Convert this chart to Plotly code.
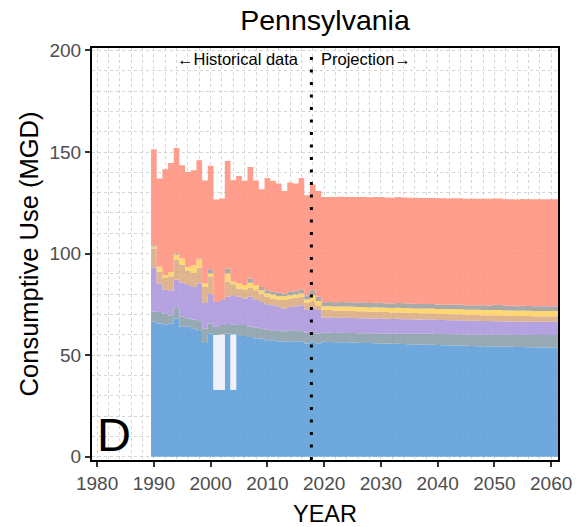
import plotly.graph_objects as go

# ---------------- data ----------------
hist_years = list(range(1990, 2020))
proj_years = list(range(2020, 2061))
years = hist_years + proj_years

# layer thicknesses (MGD), bottom to top
blue_hist = [66.4, 65.6, 65.1, 65.6, 68.0, 64.0, 64.0, 63.2, 62.3, 56.0,
             60.7, 33.0, 33.0, 60.7, 33.0, 60.2, 59.4, 59.0, 58.2, 58.2,
             57.4, 57.4, 56.9, 56.6, 56.9, 56.9, 56.6, 55.8, 56.6, 55.8]
blue_proj = [56.6, 56.5, 56.4, 56.4, 56.3, 56.2, 56.1, 56.0, 56.0, 55.9,
             55.8, 55.7, 55.6, 55.6, 55.5, 55.4, 55.3, 55.2, 55.2, 55.1,
             55.0, 54.9, 54.8, 54.8, 54.7, 54.6, 54.5, 54.4, 54.4, 54.3,
             54.2, 54.2, 54.1, 54.1, 54.0, 54.0, 53.9, 53.9, 53.8, 53.8, 53.8]

gap_years = [2001, 2002, 2004]
gap_sizes = [26.9, 27.2, 27.2]

teal_hist = [5.1, 5.7, 5.4, 4.1, 5.5, 4.9, 4.0, 4.4, 4.9, 7.0,
             4.9, 4.1, 4.6, 4.6, 4.9, 4.6, 5.4, 5.0, 5.3, 5.0,
             5.3, 4.9, 5.4, 5.2, 5.4, 5.4, 5.2, 5.2, 4.9, 4.9]
teal_proj = [4.4, 4.5, 4.5, 4.6, 4.6, 4.7, 4.7, 4.8, 4.8, 4.9,
             4.9, 5.0, 5.0, 5.1, 5.1, 5.2, 5.2, 5.3, 5.3, 5.4,
             5.4, 5.5, 5.5, 5.5, 5.6, 5.6, 5.7, 5.7, 5.7, 5.8,
             5.8, 5.8, 5.9, 5.9, 5.9, 6.0, 6.0, 6.0, 6.1, 6.1, 6.1]

purple_hist = [21.8, 14.0, 11.8, 12.0, 13.8, 16.7, 16.5, 16.0, 18.1, 12.7,
               14.4, 12.2, 12.3, 13.4, 14.4, 13.9, 13.1, 14.7, 13.6, 13.0,
               12.4, 12.3, 11.5, 11.2, 11.5, 11.8, 12.8, 11.5, 11.8, 11.5]
purple_proj = [7.6, 7.6, 7.5, 7.5, 7.5, 7.4, 7.4, 7.4, 7.3, 7.3,
               7.3, 7.2, 7.2, 7.2, 7.1, 7.1, 7.1, 7.0, 7.0, 7.0,
               6.9, 6.9, 6.9, 6.9, 6.8, 6.8, 6.8, 6.8, 6.7, 6.7,
               6.7, 6.7, 6.6, 6.6, 6.6, 6.6, 6.6, 6.5, 6.5, 6.5, 6.5]

tan_hist = [9.2, 5.7, 5.7, 7.2, 9.8, 9.0, 7.0, 6.9, 7.9, 7.9,
            8.7, 0.0, 0.0, 7.4, 5.4, 4.1, 4.4, 4.6, 4.9, 3.8,
            3.6, 3.3, 3.3, 4.1, 4.1, 4.1, 4.1, 3.2, 3.3, 2.4]
tan_proj = [3.6, 3.6, 3.5, 3.5, 3.5, 3.4, 3.4, 3.4, 3.3, 3.3,
            3.3, 3.3, 3.2, 3.2, 3.2, 3.2, 3.1, 3.1, 3.1, 3.1,
            3.0, 3.0, 3.0, 3.0, 3.0, 2.9, 2.9, 2.9, 2.9, 2.9,
            2.9, 2.9, 2.8, 2.8, 2.8, 2.8, 2.8, 2.8, 2.8, 2.8, 2.8]

yellow_hist = [1.0, 2.5, 1.4, 2.1, 2.3, 3.0, 2.0, 3.8, 4.0, 1.7,
               1.5, 0.0, 0.0, 4.1, 1.2, 2.5, 2.2, 2.3, 2.5, 2.0,
               1.7, 2.0, 1.9, 1.9, 1.6, 1.7, 1.7, 1.7, 2.9, 2.1]
yellow_proj = [1.9, 1.9, 2.0, 2.0, 2.0, 2.1, 2.1, 2.1, 2.1, 2.2,
               2.2, 2.2, 2.2, 2.3, 2.3, 2.3, 2.3, 2.3, 2.4, 2.4,
               2.4, 2.4, 2.4, 2.5, 2.5, 2.5, 2.5, 2.5, 2.5, 2.5,
               2.6, 2.6, 2.6, 2.6, 2.6, 2.6, 2.6, 2.6, 2.6, 2.6, 2.6]

gray_hist = [0.6, 0.0, 0.0, 0.0, 0.6, 0.0, 0.0, 0.0, 0.4, 0.0,
             2.1, 0.0, 0.0, 2.5, 0.0, 0.0, 0.0, 2.1, 0.0, 1.6,
             1.6, 1.3, 1.7, 1.4, 1.7, 1.6, 1.9, 2.1, 2.5, 2.0]
gray_proj = [2.0, 2.1, 2.1, 2.2, 2.1, 2.2, 2.2, 2.3, 2.2, 2.2,
             2.3, 2.2, 2.2, 2.3, 2.3, 2.2, 2.3, 2.3, 2.2, 2.2,
             2.3, 2.3, 2.2, 2.2, 2.3, 2.2, 2.2, 2.3, 2.4, 2.3,
             2.6, 2.5, 2.3, 2.3, 2.2, 2.3, 2.3, 2.3, 2.3, 2.3, 2.3]

salmon_hist = [47.2, 43.5, 52.1, 53.6, 52.0, 45.9, 46.7, 46.7, 48.4, 50.7,
               51.0, 50.4, 50.0, 52.9, 50.0, 52.9, 51.3, 54.9, 51.5, 48.1,
               55.2, 54.6, 53.8, 50.4, 53.8, 53.0, 54.9, 49.2, 52.0, 52.1]
salmon_proj = [51.7, 51.7, 51.8, 51.8, 51.8, 51.9, 51.9, 51.9, 52.0, 52.0,
               52.0, 52.0, 52.1, 52.1, 52.1, 52.1, 52.2, 52.2, 52.2, 52.2,
               52.3, 52.3, 52.3, 52.3, 52.4, 52.4, 52.4, 52.4, 52.4, 52.5,
               52.3, 52.4, 52.5, 52.5, 52.5, 52.6, 52.6, 52.6, 52.6, 52.7, 52.7]

projection_start = 2017.75
x_ticks = [1980, 1990, 2000, 2010, 2020, 2030, 2040, 2050, 2060]
y_ticks = [0, 50, 100, 150, 200]
x_range = [1979.1, 2061.2]
y_range = [-1.6, 201.2]

# ---------------- build ----------------
gap_map = dict(zip(gap_years, gap_sizes))
gap = [gap_map.get(y, 0.0) for y in years]

layers = [
    (blue_hist + blue_proj, "#6FA8DC", 0.88),
    (gap, "#F0F0F8", 1.0),
    (teal_hist + teal_proj, "#97AAB2", 0.88),
    (purple_hist + purple_proj, "#B5A2E1", 0.88),
    (tan_hist + tan_proj, "#DFB58E", 0.88),
    (yellow_hist + yellow_proj, "#FFD872", 0.88),
    (gray_hist + gray_proj, "#A9A9A9", 0.88),
    (salmon_hist + salmon_proj, "#FF9E8C", 0.88),
]


def rgba(hexcol, a):
    r, g, b = (int(hexcol[i:i + 2], 16) for i in (1, 3, 5))
    f = lambda c: max(0, min(255, round((c - 255 * (1 - a)) / a)))
    return f"rgba({f(r)},{f(g)},{f(b)},{a})"


# step edges: each year's band spans year-0.5 .. year+0.5; last band runs to the panel edge
x_edges = [y - 0.5 for y in years] + [x_range[1]]

fig = go.Figure()
for vals, col, a in layers:
    fig.add_trace(go.Scatter(
        x=x_edges, y=vals + [vals[-1]],
        stackgroup="one", mode="lines",
        line=dict(width=0, shape="hv"),
        fillcolor=rgba(col, a),
        hoverinfo="skip", showlegend=False,
    ))

fig.add_shape(type="line", xref="x", yref="paper",
              x0=projection_start, x1=projection_start, y0=0, y1=1,
              line=dict(color="black", width=3, dash="3px,9.5px"))

font = "Liberation Sans, Arial, sans-serif"
grid = "#D4D4D4"

fig.add_annotation(x=2016.0, y=195.6, xref="x", yref="y",
                   text="\u2190Historical data", showarrow=False,
                   xanchor="right", yanchor="middle",
                   font=dict(family=font, size=16.5, color="black"))
fig.add_annotation(x=2019.1, y=195.6, xref="x", yref="y",
                   text="Projection\u2192", showarrow=False,
                   xanchor="left", yanchor="middle",
                   font=dict(family=font, size=16.5, color="black"))
fig.add_annotation(x=1983.0, y=11.0, xref="x", yref="y",
                   text="D", showarrow=False,
                   xanchor="center", yanchor="middle",
                   font=dict(family=font, size=47, color="black"))

fig.update_layout(
    template="none",
    width=579, height=527,
    margin=dict(l=92, r=21, t=48, b=67, autoexpand=False),
    paper_bgcolor="white", plot_bgcolor="white",
    font=dict(family=font, color="black"),
    title=dict(text="Pennsylvania", x=0.5, xref="paper", xanchor="center",
               y=1 - 20 / 527, yref="container", yanchor="middle",
               font=dict(size=28.5, color="black")),
    xaxis=dict(
        automargin=False,
        range=x_range, tickvals=x_ticks,
        showline=True, linecolor="black", linewidth=2, mirror=True,
        ticks="outside", ticklen=5, tickwidth=1.5, tickcolor="#333333",
        tickfont=dict(size=19, color="#4D4D4D"),
        showgrid=True, gridcolor=grid, griddash="dot", gridwidth=1,
        minor=dict(dtick=2, tick0=1980, showgrid=True, gridcolor=grid,
                   griddash="dot", gridwidth=1),
        zeroline=False,
        title=dict(text="YEAR", font=dict(size=23.5, color="black"), standoff=13),
    ),
    yaxis=dict(
        automargin=False,
        range=y_range, tickvals=y_ticks,
        showline=True, linecolor="black", linewidth=2, mirror=True,
        ticks="outside", ticklen=5, tickwidth=1.5, tickcolor="#333333",
        tickfont=dict(size=19, color="#4D4D4D"),
        showgrid=True, gridcolor=grid, griddash="dot", gridwidth=1,
        minor=dict(dtick=10, tick0=0, showgrid=True, gridcolor=grid,
                   griddash="dot", gridwidth=1),
        zeroline=False,
        title=dict(text="Consumptive Use (MGD)", font=dict(size=25.5, color="black"),
                   standoff=4),
    ),
)

fig.write_html("out.html")
